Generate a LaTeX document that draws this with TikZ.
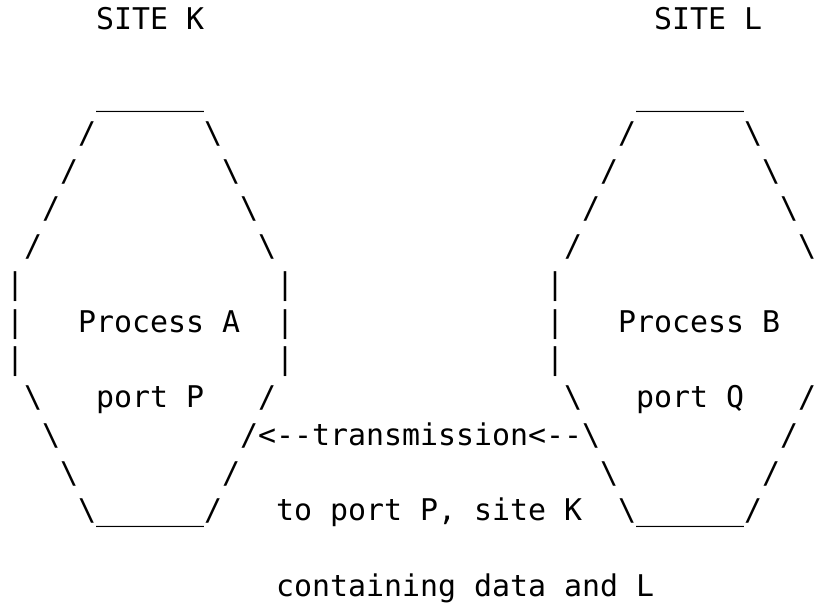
\documentclass[tikz,border=0pt]{standalone}
\usepackage{fontspec}
\newfontfamily\ascfont{DejaVu Sans Mono}
\newcommand\ascbs{\textbackslash}
\newcommand\ascus{\_\_\_\_\_\_}
\tikzset{asc/.style={anchor=base west, inner sep=0pt, outer sep=0pt, text=black,
  font=\ascfont\fontsize{29.9}{36}\selectfont\frenchspacing}}
\newcommand\asccell[4]{\node[asc] (#1) at ({6+18*#2},{30+37.75*#3}) {#4};}
\begin{document}
\begin{tikzpicture}[x=1pt,y=-1pt]
\fill[white] (0,0) rectangle (818,604);
\useasboundingbox (0,0) rectangle (818,604);
% row 0
\asccell{sitek}{5}{0}{SITE K}
\asccell{sitel}{36}{0}{SITE L}
% row 2
\asccell{ktop}{5}{2}{\ascus}
\asccell{ltop}{35}{2}{\ascus}
% row 3
\asccell{ka3}{4}{3}{/}
\asccell{kb3}{11}{3}{\ascbs}
\asccell{la3}{34}{3}{/}
\asccell{lb3}{41}{3}{\ascbs}
% row 4
\asccell{ka4}{3}{4}{/}
\asccell{kb4}{12}{4}{\ascbs}
\asccell{la4}{33}{4}{/}
\asccell{lb4}{42}{4}{\ascbs}
% row 5
\asccell{ka5}{2}{5}{/}
\asccell{kb5}{13}{5}{\ascbs}
\asccell{la5}{32}{5}{/}
\asccell{lb5}{43}{5}{\ascbs}
% row 6
\asccell{ka6}{1}{6}{/}
\asccell{kb6}{14}{6}{\ascbs}
\asccell{la6}{31}{6}{/}
\asccell{lb6}{44}{6}{\ascbs}
% rows 7-9
\asccell{ka7}{0}{7}{|}
\asccell{kb7}{15}{7}{|}
\asccell{la7}{30}{7}{|}
\asccell{ka8}{0}{8}{|}
\asccell{procA}{4}{8}{Process A}
\asccell{kb8}{15}{8}{|}
\asccell{la8}{30}{8}{|}
\asccell{procB}{34}{8}{Process B}
\asccell{ka9}{0}{9}{|}
\asccell{kb9}{15}{9}{|}
\asccell{la9}{30}{9}{|}
% row 10
\asccell{ka10}{1}{10}{\ascbs}
\asccell{portP}{5}{10}{port P}
\asccell{kb10}{14}{10}{/}
\asccell{la10}{31}{10}{\ascbs}
\asccell{portQ}{35}{10}{port Q}
\asccell{lb10}{44}{10}{/}
% row 11
\asccell{ka11}{2}{11}{\ascbs}
\asccell{kb11}{13}{11}{/}
\asccell{trans}{14}{11}{<-{}-transmission<-{}-}
\asccell{la11}{32}{11}{\ascbs}
\asccell{lb11}{43}{11}{/}
% row 12
\asccell{ka12}{3}{12}{\ascbs}
\asccell{kb12}{12}{12}{/}
\asccell{la12}{33}{12}{\ascbs}
\asccell{lb12}{42}{12}{/}
% row 13
\asccell{ka13}{4}{13}{\ascbs}
\asccell{kbot}{5}{13}{\ascus}
\asccell{kb13}{11}{13}{/}
\asccell{toport}{15}{13}{to port P, site K}
\asccell{la13}{34}{13}{\ascbs}
\asccell{lbot}{35}{13}{\ascus}
\asccell{lb13}{41}{13}{/}
% row 15
\asccell{contain}{15}{15}{containing data and L}
\end{tikzpicture}
\end{document}
